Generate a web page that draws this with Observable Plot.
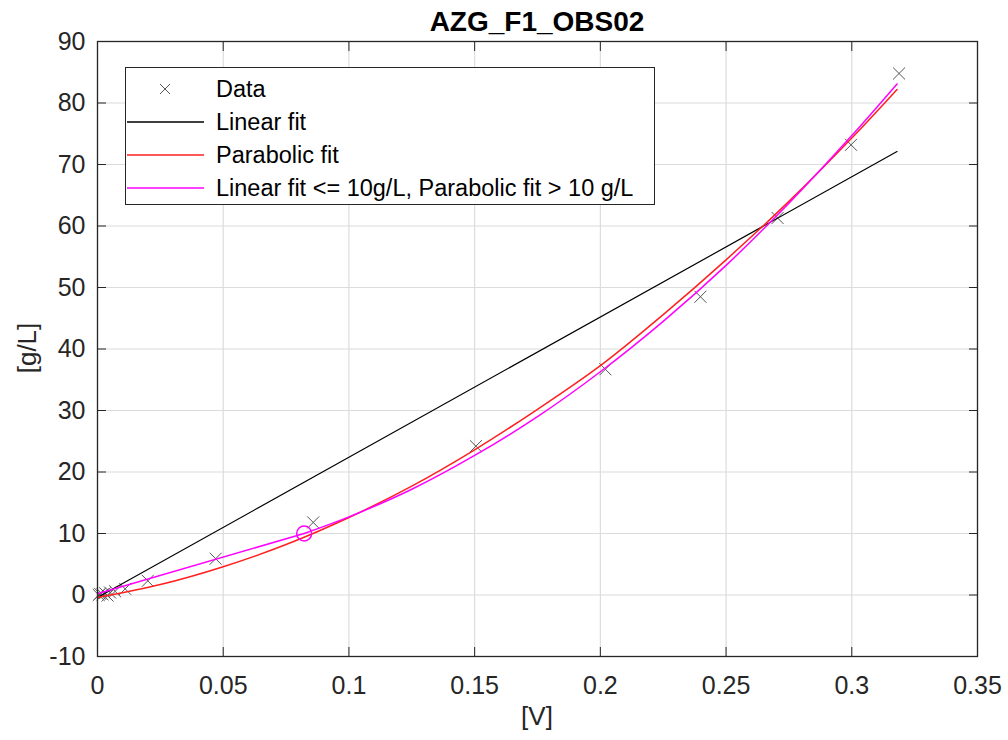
<!DOCTYPE html>
<html>
<head>
<meta charset="utf-8">
<script src="https://cdn.jsdelivr.net/npm/d3@7"></script>
<script src="https://cdn.jsdelivr.net/npm/@observablehq/plot@0.6"></script>
<style>
  html, body { margin: 0; padding: 0; background: #fff; }
  #wrap { position: relative; width: 1008px; height: 740px; font-family: "Liberation Sans", Arial, Helvetica, sans-serif; color: #262626; }
  #wrap svg { position: absolute; left: 0; top: 0; }
  .ov { position: absolute; white-space: nowrap; }
  #legend { position: absolute; left: 125px; top: 67px; width: 530px; height: 138px; border: 1.3px solid #262626; background: #fff; box-sizing: border-box; }
  .row { position: absolute; left: 0; height: 30px; width: 100%; }
  .row span { position: absolute; left: 90px; top: 0; font-size: 23.5px; line-height: 30px; color: #000; }
  .row svg { position: absolute; left: 7px; top: 0; }
</style>
</head>
<body>
<div id="wrap"></div>
<script>
// ---- data ----
const xTicks = [0, 0.05, 0.1, 0.15, 0.2, 0.25, 0.3, 0.35];
const yTicks = [-10, 0, 10, 20, 30, 40, 50, 60, 70, 80, 90];

const dataV  = [0.0005, 0.001, 0.002, 0.003, 0.004, 0.005, 0.007, 0.011, 0.020, 0.047, 0.0858, 0.1505, 0.202, 0.2398, 0.2705, 0.2997, 0.3188];
const dataGL = [0.0, 0.2, 0.1, 0.3, -0.1, 0.4, 0.6, 1.0, 2.3, 5.9, 11.8, 24.2, 36.7, 48.5, 61.3, 73.2, 84.8];

const linearV  = [0, 0.318];
const linearGL = [-0.4, 72.1];

const parabV  = [0, 0.025, 0.05, 0.075, 0.1, 0.125, 0.15, 0.175, 0.2, 0.225, 0.25, 0.275, 0.3, 0.318];
const parabGL = [-0.4, 1.7, 4.6, 8.2, 12.6, 17.7, 23.6, 30.2, 37.3, 45.6, 54.5, 64.0, 74.3, 82.2];

const comboLinV  = [0, 0.0822];
const comboLinGL = [0.2, 10.0];
const comboParV  = [0.0822, 0.1, 0.125, 0.15, 0.175, 0.2, 0.225, 0.25, 0.275, 0.3, 0.318];
const comboParGL = [10.0, 12.7, 17.2, 22.7, 29.0, 36.3, 44.5, 53.6, 63.7, 74.7, 83.1];

const thresholdV  = [0.0822];
const thresholdGL = [10];

const titleText = "AZG_F1_OBS02";
const xLabel = "[V]";
const yLabel = "[g/L]";
const legendLabels = ["Data", "Linear fit", "Parabolic fit", "Linear fit <= 10g/L, Parabolic fit > 10 g/L"];

// ---- build tables ----
const pts = (xs, ys) => xs.map((x, i) => ({x, y: ys[i]}));
const data = pts(dataV, dataGL);
const linear = pts(linearV, linearGL);
const parab = pts(parabV, parabGL);
const comboLin = pts(comboLinV, comboLinGL);
const comboPar = pts(comboParV, comboParGL);
const threshold = pts(thresholdV, thresholdGL);

const fmt = d => String(d);
const TK = 9;

const chart = Plot.plot({
  width: 1008,
  height: 740,
  marginLeft: 97,
  marginRight: 31,
  marginTop: 41,
  marginBottom: 84,
  style: {fontSize: "25px", fontFamily: "'Liberation Sans', Arial, Helvetica, sans-serif", color: "#262626", background: "transparent"},
  x: {domain: [0, 0.35], ticks: xTicks},
  y: {domain: [-10, 90], ticks: yTicks},
  marks: [
    Plot.gridX(xTicks, {stroke: "#dcdcdc", strokeOpacity: 1, strokeWidth: 1.2}),
    Plot.gridY(yTicks, {stroke: "#dcdcdc", strokeOpacity: 1, strokeWidth: 1.2}),
    // tick labels
    Plot.axisX(xTicks, {anchor: "bottom", tickSize: 0, tickPadding: 20, tickFormat: fmt, label: null}),
    Plot.axisY(yTicks, {anchor: "left", tickSize: 0, tickPadding: 12, tickFormat: fmt, label: null}),
    // inward tick marks on all four sides
    Plot.axisX(xTicks, {anchor: "bottom", tickSize: TK, dy: -TK, text: null, label: null, stroke: "#262626"}),
    Plot.axisX(xTicks, {anchor: "top", tickSize: TK, dy: TK, text: null, label: null, stroke: "#262626"}),
    Plot.axisY(yTicks, {anchor: "left", tickSize: TK, dx: TK, text: null, label: null, stroke: "#262626"}),
    Plot.axisY(yTicks, {anchor: "right", tickSize: TK, dx: -TK, text: null, label: null, stroke: "#262626"}),
    // data and fits
    Plot.dot(data, {x: "x", y: "y", symbol: "times", r: 5.5, stroke: "#555", strokeWidth: 1}),
    Plot.line(linear, {x: "x", y: "y", stroke: "#000", strokeWidth: 1.2}),
    Plot.line(parab, {x: "x", y: "y", stroke: "#ff2020", strokeWidth: 1.5, curve: "catmull-rom"}),
    Plot.line(comboLin, {x: "x", y: "y", stroke: "#ff00ff", strokeWidth: 1.5}),
    Plot.line(comboPar, {x: "x", y: "y", stroke: "#ff00ff", strokeWidth: 1.5, curve: "catmull-rom"}),
    Plot.dot(threshold, {x: "x", y: "y", r: 7.5, stroke: "#ff00ff", strokeWidth: 1.5, fill: "none"}),
    Plot.frame({stroke: "#262626", strokeWidth: 1.3})
  ]
});

const wrap = document.getElementById("wrap");
wrap.appendChild(chart);

function addText(txt, css) {
  const d = document.createElement("div");
  d.className = "ov";
  d.textContent = txt;
  Object.assign(d.style, css);
  wrap.appendChild(d);
  return d;
}
// title
addText(titleText, {left: "537px", top: "6px", transform: "translateX(-50%)", fontWeight: "bold", fontSize: "28px", color: "#000"});
// x label
addText(xLabel, {left: "537px", top: "701px", transform: "translateX(-50%)", fontSize: "26px"});
// y label
addText(yLabel, {left: "27px", top: "348px", transform: "translate(-50%,-50%) rotate(-90deg)", fontSize: "26px"});

// legend
const legend = document.createElement("div");
legend.id = "legend";
wrap.appendChild(legend);
const rowTops = [6, 39, 72, 105];
const swatch = [
  '<svg width="80" height="30"><path d="M34,10 L44,20 M44,10 L34,20" stroke="#555" stroke-width="1" fill="none"/></svg>',
  '<svg width="80" height="30"><line x1="1" y1="15" x2="78" y2="15" stroke="#000" stroke-width="1.3"/></svg>',
  '<svg width="80" height="30"><line x1="1" y1="15" x2="78" y2="15" stroke="#ff2020" stroke-width="1.6"/></svg>',
  '<svg width="80" height="30"><line x1="1" y1="15" x2="78" y2="15" stroke="#ff00ff" stroke-width="1.6"/></svg>'
];
legendLabels.forEach((lab, i) => {
  const r = document.createElement("div");
  r.className = "row";
  r.style.top = rowTops[i] + "px";
  r.innerHTML = swatch[i];
  const s = document.createElement("span");
  s.textContent = lab;
  r.appendChild(s);
  legend.appendChild(r);
});
</script>
</body>
</html>
